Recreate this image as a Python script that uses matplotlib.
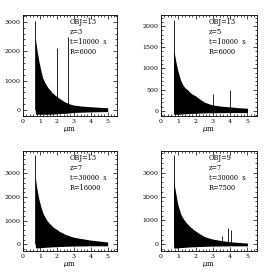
import numpy as np
import matplotlib.pyplot as plt
from matplotlib.ticker import MultipleLocator

# Longitudes de onda donde se lee la envolvente del espectro (micras)
wl = [0.73, 0.76, 0.8, 0.85, 0.9, 0.95, 1.0, 1.05, 1.1, 1.15, 1.2, 1.3, 1.4, 1.5, 1.6,
      1.7, 1.8, 1.9, 2.0, 2.1, 2.2, 2.35, 2.5, 2.75, 3.0, 3.5, 4.0, 4.5, 5.0]

# Envolvente superior de cada panel
top1 = [2470, 2300, 2150, 1950, 1800, 1620, 1500, 1350, 1250, 1120, 1050, 920, 830, 740, 680,
        600, 560, 500, 460, 420, 380, 320, 270, 210, 170, 135, 115, 95, 80]
top2 = [1450, 1380, 1300, 1180, 1080, 990, 910, 840, 770, 710, 660, 590, 540, 510, 470,
        430, 400, 375, 355, 320, 290, 250, 210, 170, 140, 110, 95, 75, 63]
top3 = [2860, 2650, 2450, 2250, 2050, 1880, 1740, 1600, 1480, 1380, 1290, 1150, 1030, 930, 860,
        790, 720, 670, 630, 580, 530, 480, 420, 360, 300, 240, 180, 140, 100]
top4 = [2760, 2550, 2350, 2150, 1950, 1750, 1600, 1480, 1360, 1260, 1180, 1060, 960, 880, 800,
        730, 670, 610, 560, 510, 460, 400, 330, 270, 220, 160, 110, 80, 55]

# Envolvente inferior (ruido por debajo de cero)
bot1 = [-140, -140, -140, -140, -140, -140, -140, -140, -140, -140, -140, -140, -140, -140, -140,
        -135, -130, -130, -125, -120, -115, -110, -110, -95, -80, -70, -60, -55, -50]
bot2 = [-80, -80, -80, -80, -80, -80, -80, -78, -76, -74, -72, -70, -68, -66, -64,
        -62, -60, -58, -56, -54, -52, -50, -48, -46, -44, -42, -40, -40, -40]
bot3 = [-150, -150, -150, -150, -150, -145, -140, -140, -135, -130, -130, -125, -120, -115, -110,
        -105, -100, -100, -95, -90, -90, -85, -80, -75, -70, -65, -60, -60, -60]
bot4 = [-150, -150, -150, -150, -150, -145, -140, -140, -135, -130, -130, -125, -120, -115, -110,
        -105, -100, -100, -95, -90, -90, -85, -80, -75, -70, -65, -60, -60, -60]

# Lineas de emision (posicion, altura)
lin1_x = [0.73, 2.0, 2.66]
lin1_y = [3030, 2100, 2470]
lin2_x = [0.73, 3.0, 4.0]
lin2_y = [2150, 400, 500]
lin3_x = [0.73]
lin3_y = [3780]
lin4_x = [0.73, 3.5, 3.9, 4.03]
lin4_y = [3730, 360, 700, 590]

textos = [["OBJ=13", "z=3", "t=10000  s", "R=6000"],
          ["OBJ=13", "z=5", "t=10000  s", "R=6000"],
          ["OBJ=13", "z=7", "t=30000  s", "R=16000"],
          ["OBJ=9", "z=7", "t=30000  s", "R=7500"]]

plt.rcParams['font.family'] = 'DejaVu Serif'

fig = plt.figure(figsize=(2.66, 2.77), dpi=100)
posiciones = [[23/266, 1-116/277, 94/266, 101/277],
              [161/266, 1-116/277, 96/266, 101/277],
              [23/266, 1-251/277, 94/266, 100/277],
              [161/266, 1-251/277, 96/266, 100/277]]
tops = [top1, top2, top3, top4]
bots = [bot1, bot2, bot3, bot4]
lins = [(lin1_x, lin1_y), (lin2_x, lin2_y), (lin3_x, lin3_y), (lin4_x, lin4_y)]
ylims = [(-200, 3230), (-120, 2260), (-280, 3950), (-275, 3900)]
ymaj = [1000, 500, 1000, 1000]
ymin = [200, 100, 200, 200]

for i in range(4):
    ax = fig.add_axes(posiciones[i])
    ax.fill_between(wl, bots[i], tops[i], color='black', lw=0)
    ax.vlines(lins[i][0], 0, lins[i][1], color='black', lw=0.6)
    ax.set_xlim(0, 5.55)
    ax.set_ylim(*ylims[i])
    ax.xaxis.set_major_locator(MultipleLocator(1))
    ax.xaxis.set_minor_locator(MultipleLocator(0.2))
    ax.yaxis.set_major_locator(MultipleLocator(ymaj[i]))
    ax.yaxis.set_minor_locator(MultipleLocator(ymin[i]))
    ax.tick_params(which='both', direction='in', top=True, right=True, labelsize=4.5, pad=2, width=0.5)
    ax.tick_params(which='major', length=3)
    ax.tick_params(which='minor', length=1.5)
    for s in ax.spines.values():
        s.set_linewidth(0.6)
    ax.set_xlabel(r'$\mu$m', fontsize=5, labelpad=1)
    for j, t in enumerate(textos[i]):
        ax.text(0.5, 0.93 - j*0.1, t, transform=ax.transAxes, fontsize=4.8, va='center')

fig.savefig('out.png', dpi=100)
